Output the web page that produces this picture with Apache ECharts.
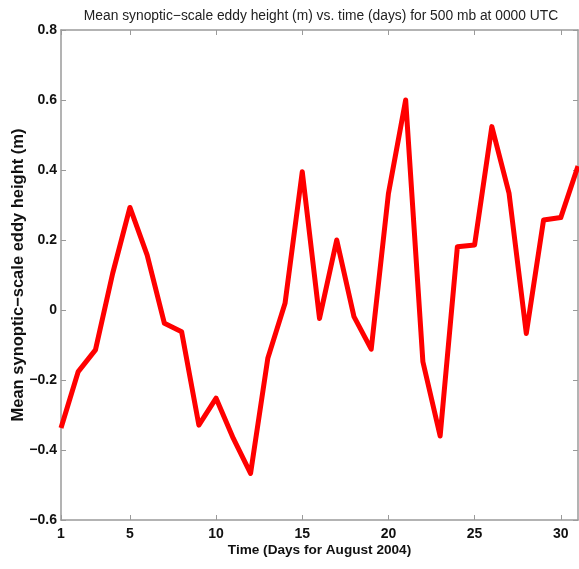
<!DOCTYPE html>
<html>
<head>
<meta charset="utf-8">
<script src="https://cdn.jsdelivr.net/npm/echarts@6/dist/echarts.min.js"></script>
<style>
html,body{margin:0;padding:0;background:#fff;}
#c{width:579px;height:569px;}
</style>
</head>
<body>
<div id="c"></div>
<script>
var days = [1,2,3,4,5,6,7,8,9,10,11,12,13,14,15,16,17,18,19,20,21,22,23,24,25,26,27,28,29,30,31];
var eddyHeight = [-0.337,-0.176,-0.114,0.105,0.293,0.157,-0.038,-0.062,-0.329,-0.252,-0.367,-0.467,-0.138,0.019,0.395,-0.024,0.2,-0.019,-0.112,0.333,0.6,-0.148,-0.36,0.181,0.186,0.524,0.333,-0.067,0.257,0.264,0.411];
var xTicks = [1,5,10,15,20,25,30];
var titleText = 'Mean synoptic\u2212scale eddy height (m) vs. time (days) for 500 mb at 0000 UTC';
var xName = 'Time (Days for August 2004)';
var yName = 'Mean synoptic\u2212scale eddy height (m)';

var fontFam = '"Liberation Sans Narrow", "Liberation Sans", Arial, sans-serif';
var chart = echarts.init(document.getElementById('c'));
var axisColor = '#9a9a9a';
var fmtY = function(v){ var s = (Math.round(v*10)/10).toString(); return s.replace('-', '\u2212'); };
function xAxisBase() {
  return {
    type: 'value', min: 1, max: 31,
    splitLine: {show:false},
    axisLine: {show:true, onZero:false, lineStyle:{color:axisColor, width:1.5}},
    axisTick: {show:true, inside:true, length:5, customValues: xTicks, lineStyle:{color:axisColor}}
  };
}
chart.setOption({
  animation: false,
  title: {
    text: titleText, left: 316, top: 4, textAlign: 'center',
    textStyle: {fontFamily: fontFam, fontSize: 13.8, fontWeight: 'normal', color: '#222'}
  },
  grid: {left: 61, right: 1, top: 30, bottom: 49, outerBoundsMode: 'none', containLabel: false},
  xAxis: [
    Object.assign(xAxisBase(), {
      position: 'bottom',
      axisLabel: {show:true, customValues: xTicks, margin: 7, color:'#111', fontFamily: fontFam, fontSize: 14, fontWeight: 'bold'},
      name: xName, nameLocation: 'middle', nameGap: 23, nameMoveOverlap: false,
      nameTextStyle: {fontFamily: fontFam, fontSize: 13.6, fontWeight: 'bold', color:'#111'}
    }),
    Object.assign(xAxisBase(), {position: 'top', axisLabel:{show:false}})
  ],
  yAxis: [
    {
      type: 'value', min: -0.6, max: 0.8, interval: 0.2, position: 'left',
      splitLine: {show:false},
      axisLine: {show:true, onZero:false, lineStyle:{color:axisColor, width:1.5}},
      axisTick: {show:true, inside:true, length:5, lineStyle:{color:axisColor}},
      axisLabel: {formatter: fmtY, margin: 4, color:'#111', fontFamily: fontFam, fontSize: 14, fontWeight: 'bold'},
      name: yName, nameLocation: 'middle', nameGap: 34, nameRotate: 90, nameMoveOverlap: false,
      nameTextStyle: {fontFamily: fontFam, fontSize: 16.5, fontWeight: 'bold', color:'#111'}
    },
    {
      type: 'value', min: -0.6, max: 0.8, interval: 0.2, position: 'right',
      splitLine: {show:false},
      axisLine: {show:true, onZero:false, lineStyle:{color:axisColor, width:1.5}},
      axisTick: {show:true, inside:true, length:5, lineStyle:{color:axisColor}},
      axisLabel: {show:false}
    }
  ],
  series: [{
    type: 'line', xAxisIndex: 0, yAxisIndex: 0,
    data: days.map(function(d,i){ return [d, eddyHeight[i]]; }),
    showSymbol: false, symbol: 'none',
    lineStyle: {color: '#ff0000', width: 5, join: 'round'},
    clip: false
  }]
});
</script>
</body>
</html>
